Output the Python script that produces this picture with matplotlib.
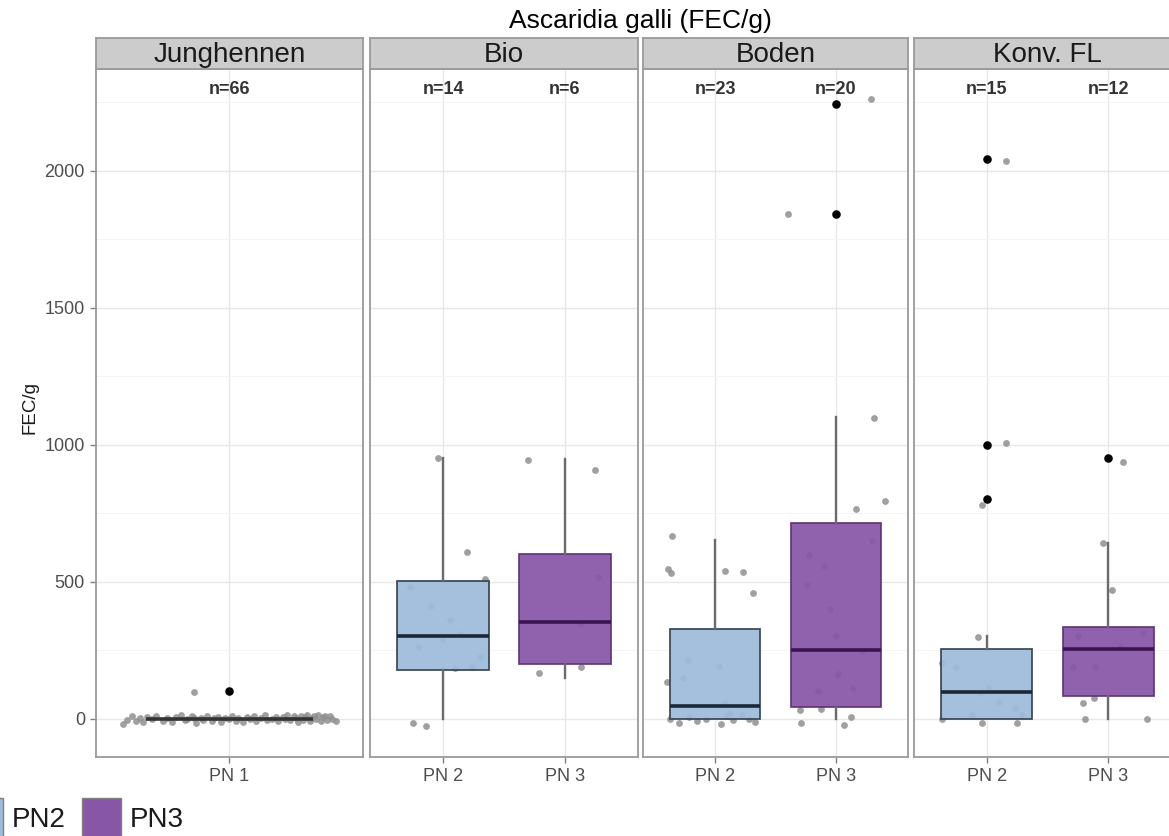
import matplotlib
matplotlib.use("Agg")
import matplotlib.pyplot as plt
from matplotlib.patches import Rectangle
from matplotlib.ticker import MultipleLocator

plt.rcParams['font.family'] = ['Liberation Sans', 'DejaVu Sans']

# ---------------- data ----------------
title = "Ascaridia galli (FEC/g)"
y_label = "FEC/g"
panels = ["Junghennen", "Bio", "Boden", "Konv. FL"]
groups = [["PN 1"], ["PN 2", "PN 3"], ["PN 2", "PN 3"], ["PN 2", "PN 3"]]
group_keys = [["PN1"], ["PN2", "PN3"], ["PN2", "PN3"], ["PN2", "PN3"]]
n_counts = [[66], [14, 6], [23, 20], [15, 12]]

# box statistics (lower whisker, Q1, median, Q3, upper whisker)
box_whislo = [[0], [0, 150], [0, 0], [0, 0]]
box_q1 = [[0], [179, 201], [0, 41], [0, 84]]
box_med = [[0], [303, 352], [45, 252], [96, 254]]
box_q3 = [[0], [501, 602], [328, 714], [254, 335]]
box_whishi = [[0], [950, 948], [653, 1100], [300, 643]]
outliers = [[[100]], [[], []], [[], [1843, 2245]], [[803, 1000, 2044], [950]]]

# jittered raw observations: horizontal jitter offset, value
jung_pn1_dx = [-0.48, -0.46, -0.44, -0.42, -0.40, -0.39, -0.37, -0.35, -0.33, -0.30,
               -0.28, -0.26, -0.24, -0.22, -0.20, -0.19, -0.17, -0.15, -0.13, -0.12,
               -0.10, -0.08, -0.07, -0.05, -0.04, -0.02, 0.00, 0.01, 0.03, 0.04,
               0.06, 0.08, 0.09, 0.11, 0.12, 0.14, 0.16, 0.17, 0.19, 0.21,
               0.22, 0.24, 0.25, 0.26, 0.27, 0.29, 0.30, 0.31, 0.32, 0.33,
               0.34, 0.35, 0.36, 0.37, 0.38, 0.39, 0.40, 0.41, 0.42, 0.43,
               0.44, 0.45, 0.46, 0.48, -0.16, -0.16]
jung_pn1_val = [-18, -5, 8, -10, 4, -14, 6, -3, 10, -8,
                2, -12, 5, 12, -6, 0, 9, -15, 3, -4,
                11, -9, 1, 7, -13, 4, -2, 10, -7, 3,
                -11, 6, -3, 8, -8, 2, 12, -5, 0, 7,
                -10, 5, -2, 14, -6, 9, 3, -12, 11, -4,
                6, 15, -8, 4, 10, -3, 13, -9, 5, 8,
                -6, 11, -2, -7, 2, 98]

bio_pn2_dx = [-0.04, 0.20, 0.34, -0.27, 0.14, -0.01, -0.21, 0.24, -0.25, -0.14, 0.06, -0.10, 0.30, 0.10]
bio_pn2_val = [952, 610, 511, 482, 310, 292, 263, 190, -15, -25, 360, 410, 225, 185]
bio_pn3_dx = [-0.30, 0.25, 0.27, 0.12, -0.21, 0.13]
bio_pn3_val = [945, 909, 518, 350, 168, 190]

boden_pn2_dx = [-0.36, -0.39, -0.37, 0.08, 0.23, 0.31, -0.23, 0.03, -0.27, -0.40, 0.08,
                -0.38, -0.30, -0.22, -0.15, -0.08, 0.05, 0.10, 0.15, 0.22, 0.28, 0.33, 0.12]
boden_pn2_val = [668, 547, 533, 540, 537, 460, 215, 194, 150, 135, 58,
                 0, -15, 5, -10, 0, -20, 10, -5, 15, 0, -12, 20]
boden_pn3_dx = [0.29, -0.40, 0.32, 0.41, 0.17, -0.22, -0.10, -0.24, 0.22, 0.02,
                -0.15, 0.14, -0.30, -0.12, -0.29, 0.13, 0.07, 0.00, -0.05, 0.30]
boden_pn3_val = [2263, 1843, 1099, 796, 766, 599, 558, 489, 248, 164,
                 102, 113, 33, 36, -15, 7, -22, 300, 400, 650]

konv_pn2_dx = [0.16, 0.16, -0.04, -0.07, -0.37, -0.25, 0.02, -0.06, 0.23, -0.12, -0.37, -0.04, 0.25, 0.29, 0.10]
konv_pn2_val = [2037, 1007, 781, 299, 204, 190, 113, 95, 40, 15, 0, -15, -15, 15, 60]
konv_pn3_dx = [0.12, -0.04, 0.03, 0.29, -0.29, -0.11, -0.21, -0.12, -0.19, 0.32, -0.25, 0.10]
konv_pn3_val = [938, 642, 470, 314, 190, 190, 58, 77, 0, 0, 300, 260]

points_dx = [[jung_pn1_dx], [bio_pn2_dx, bio_pn3_dx], [boden_pn2_dx, boden_pn3_dx], [konv_pn2_dx, konv_pn3_dx]]
points_val = [[jung_pn1_val], [bio_pn2_val, bio_pn3_val], [boden_pn2_val, boden_pn3_val], [konv_pn2_val, konv_pn3_val]]

legend_keys = ["PN2", "PN3"]
y_ticks = [0, 500, 1000, 1500, 2000]

# ---------------- style ----------------
fill_colors = {"PN1": "#e0ecf4", "PN2": "#9ebcda", "PN3": "#8856a7"}
edge_colors = {"PN1": "#333333", "PN2": "#33414f", "PN3": "#5e3477"}
median_colors = {"PN1": "#333333", "PN2": "#1b2838", "PN3": "#3a1450"}
whisker_color = "#6b6b6b"

W, H = 1169, 836
panel_left = [96, 370, 643, 914]
panel_width = [267, 268, 265, 267]
panel_top, panel_bottom = 69, 757
strip_top = 38

fig = plt.figure(figsize=(W / 100, H / 100), dpi=100)

for i, name in enumerate(panels):
    L, Wd = panel_left[i], panel_width[i]
    ax = fig.add_axes([L / W, (H - panel_bottom) / H, Wd / W, (panel_bottom - panel_top) / H])
    ncat = len(groups[i])
    pos = list(range(1, ncat + 1))
    ax.set_xlim(0.4, ncat + 0.6)
    ax.set_ylim(-140, 2372)

    # grid
    ax.yaxis.set_minor_locator(MultipleLocator(250))
    ax.set_yticks(y_ticks)
    ax.grid(which='major', axis='both', color='#e8e8e8', linewidth=1.0, zorder=0)
    ax.grid(which='minor', axis='y', color='#f4f4f4', linewidth=0.7, zorder=0)
    ax.set_axisbelow(True)

    # jittered points
    for j in range(ncat):
        xs = [pos[j] + d for d in points_dx[i][j]]
        ax.scatter(xs, points_val[i][j], s=24, color='#8f8f8f', alpha=0.85,
                   linewidths=0, zorder=2)

    # boxes
    for j in range(ncat):
        key = group_keys[i][j]
        stats = [dict(whislo=box_whislo[i][j], q1=box_q1[i][j], med=box_med[i][j],
                      q3=box_q3[i][j], whishi=box_whishi[i][j], fliers=[])]
        ax.bxp(stats, positions=[pos[j]], widths=0.75, patch_artist=True,
               showcaps=False, showfliers=False, manage_ticks=False,
               boxprops=dict(facecolor=fill_colors[key], edgecolor=edge_colors[key],
                             linewidth=1.3, alpha=0.93, zorder=3),
               whiskerprops=dict(color=whisker_color, linewidth=1.7, zorder=3),
               medianprops=dict(color=median_colors[key], linewidth=2.6, zorder=4))
        if outliers[i][j]:
            ax.scatter([pos[j]] * len(outliers[i][j]), outliers[i][j], s=38,
                       color='black', linewidths=0, zorder=5)
        ax.text(pos[j], 2281, "n=%d" % n_counts[i][j], ha='center', va='baseline',
                fontsize=13, fontweight='bold', color='#333333', zorder=6)

    ax.set_xticks(pos)
    ax.set_xticklabels(groups[i])
    ax.tick_params(axis='both', which='major', direction='out', length=4, width=1,
                   color='#808080', labelcolor='#4d4d4d', labelsize=13, pad=4)
    ax.tick_params(axis='y', which='minor', length=0)
    if i == 0:
        ax.set_yticklabels([str(t) for t in y_ticks])
    else:
        ax.tick_params(axis='y', which='major', length=0, labelleft=False)
    for sp in ax.spines.values():
        sp.set_color('#9a9a9a')
        sp.set_linewidth(1.3)

    # strip
    sax = fig.add_axes([L / W, (H - panel_top) / H, Wd / W, (panel_top - strip_top) / H])
    sax.set_facecolor('#cccccc')
    sax.set_xticks([])
    sax.set_yticks([])
    for sp in sax.spines.values():
        sp.set_color('#9a9a9a')
        sp.set_linewidth(1.3)
    sax.text(0.5, 0.23, name, transform=sax.transAxes, ha='center', va='baseline',
             fontsize=20, color='#1a1a1a')

fig.text(640 / W, 1 - 28 / H, title, ha='center', va='baseline', fontsize=19, color='black')
fig.text(30 / W, 1 - 408 / H, y_label, ha='center', va='center', rotation=90,
         fontsize=13.5, color='#1a1a1a')

# legend (partly outside the canvas on the left, as in the original)
key_x = [-36, 82]
text_x = [12, 130]
for k, key in enumerate(legend_keys):
    fig.add_artist(Rectangle((key_x[k] / W, 1 - 837 / H), 39 / W, 39 / H,
                             transform=fig.transFigure, facecolor=fill_colors[key],
                             edgecolor='#7f7f7f', linewidth=1.0))
    fig.text(text_x[k] / W, 1 - 820 / H, key, ha='left', va='center', fontsize=20,
             color='#1a1a1a')

fig.savefig("out.png", dpi=100)
